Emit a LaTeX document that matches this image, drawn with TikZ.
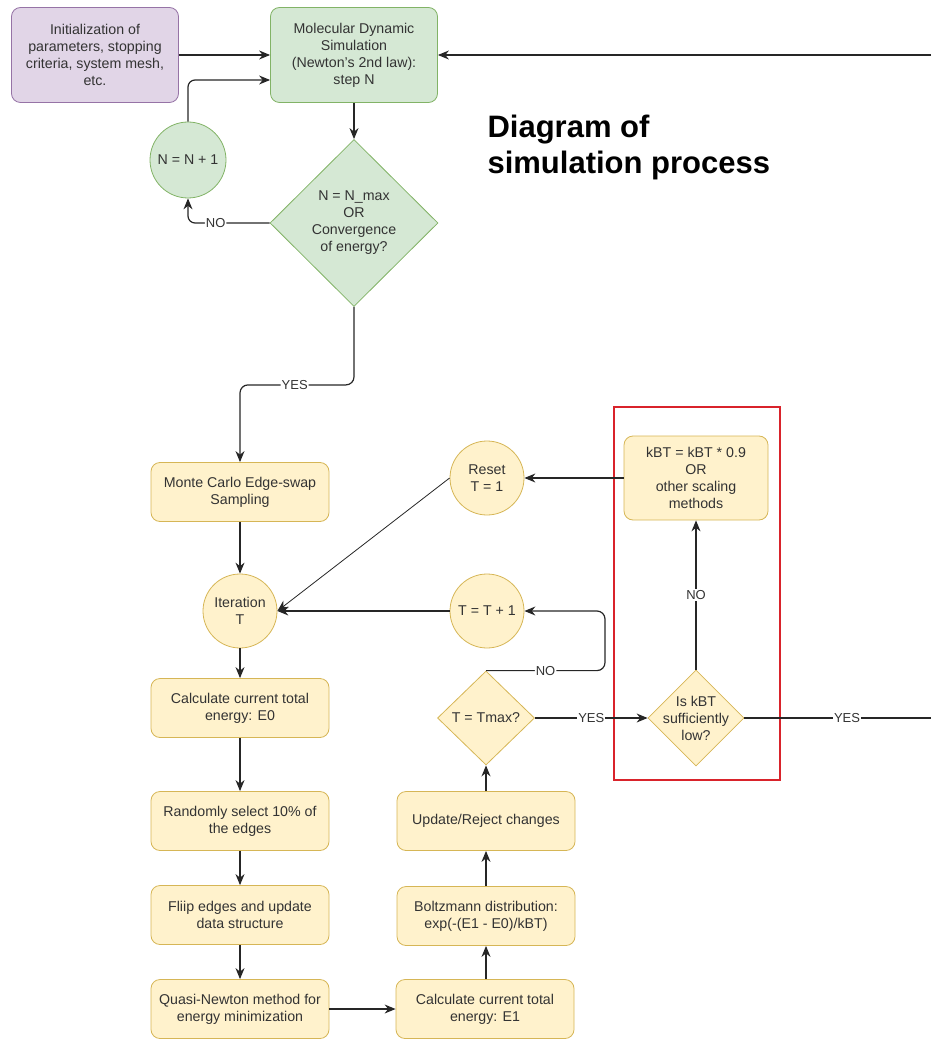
\documentclass[tikz,border=0pt]{standalone}
\usepackage{fontspec}
\setmainfont{Liberation Sans}
\usetikzlibrary{positioning,arrows.meta,shapes.geometric}
\definecolor{cyfill}{HTML}{FFF2CC}
\definecolor{cydraw}{HTML}{D6B656}
\definecolor{cgfill}{HTML}{D5E8D4}
\definecolor{cgdraw}{HTML}{82B366}
\definecolor{cpfill}{HTML}{E1D5E7}
\definecolor{cpdraw}{HTML}{9673A6}
\definecolor{ctext}{HTML}{333333}
\definecolor{cred}{HTML}{D9232B}

\begin{document}
\begin{tikzpicture}[x=1pt, y=-1pt,
    >={Stealth[length=11pt,width=9pt]},
    box/.style={draw=cydraw, fill=cyfill, rounded corners=9pt, line width=0.8pt,
                text=ctext, font=\fontsize{14.2}{17}\selectfont, align=center,
                minimum width=178pt, minimum height=59pt, inner sep=2pt},
    circ/.style={circle, draw=cydraw, fill=cyfill, line width=0.8pt, text=ctext,
                 font=\fontsize{14.2}{17}\selectfont, align=center,
                 minimum size=74pt, inner sep=0pt},
    dec/.style={diamond, draw=cydraw, fill=cyfill, line width=0.8pt, text=ctext,
                font=\fontsize{14.2}{17}\selectfont, align=center, inner sep=0pt},
    arrow/.style={->, line width=1.2pt, color=black!85},
    lbl/.style={fill=white, inner sep=1pt, text=ctext, font=\fontsize{13}{13}\selectfont},
  ]
  \useasboundingbox (0,0) rectangle (931,1040);

  % Molecular dynamics part
  \node[box, draw=cpdraw, fill=cpfill, minimum width=167pt, minimum height=95pt]
    (init) at (95,55) {Initialization of\\parameters, stopping\\criteria, system mesh,\\etc.};
  \node[box, draw=cgdraw, fill=cgfill, minimum width=167pt, minimum height=95pt]
    (md) at (354,55) {Molecular Dynamic\\Simulation\\(Newton's 2nd law):\\step N};
  \node[circ, draw=cgdraw, fill=cgfill, minimum size=76pt] (ninc) at (188,160) {N = N + 1};
  \node[dec, draw=cgdraw, fill=cgfill, minimum width=168pt, minimum height=167pt]
    (conv) at (354,223) {N = N\_max\\OR\\Convergence\\of energy?};

  % Title
  \node[anchor=west, align=left, font=\fontsize{31}{36}\selectfont\bfseries]
    (title) at (484,147) {Diagram of\\simulation process};

  \coordinate (inR) at (931,55);
  \draw[arrow] (init) -- (md);
  \draw[arrow] (inR) -- (md.east);
  \draw[arrow] (md) -- (conv);
  \draw[arrow, rounded corners=7pt] (conv.west) -| node[lbl, pos=0.33] {NO} (ninc.south);
  \draw[arrow, rounded corners=7pt] (ninc.north) |- ([yshift=-25pt]md.west);

  % Monte Carlo part
  \node[box] (mc) at (240,492) {Monte Carlo Edge-swap\\Sampling};
  \node[circ] (iter) at (240,611) {Iteration\\T};
  \node[box] (e0) at (240,708) {Calculate current total\\energy: E0};
  \node[box] (rnd) at (240,821) {Randomly select 10\% of\\the edges};
  \node[box] (flip) at (240,915) {Fliip edges and update\\data structure};
  \node[box] (qn) at (240,1009) {Quasi-Newton method for\\energy minimization};

  \draw[arrow, rounded corners=8pt] (conv.south) -- ++(0,78) -| node[lbl, pos=0.26] {YES} (mc.north);
  \draw[arrow] (mc) -- (iter);
  \draw[arrow] (iter) -- (e0);
  \draw[arrow] (e0) -- (rnd);
  \draw[arrow] (rnd) -- (flip);
  \draw[arrow] (flip) -- (qn);

  \node[box] (e1) at (485,1009) {Calculate current total\\energy: E1};
  \node[box] (boltz) at (486,916) {Boltzmann distribution:\\exp(-(E1 - E0)/kBT)};
  \node[box] (upd) at (486,821) {Update/Reject changes};
  \node[dec, minimum width=97pt, minimum height=94pt] (tmax) at (486,718) {T = Tmax?};
  \node[circ] (tinc) at (487,611) {T = T + 1};
  \node[circ] (reset) at (487,478) {Reset\\T = 1};

  \draw[arrow] (qn) -- (e1);
  \draw[arrow] (e1.north -| boltz) -- (boltz);
  \draw[arrow] (boltz) -- (upd);
  \draw[arrow] (upd) -- (tmax);
  \coordinate (noturn) at (605,611);
  \draw[arrow, rounded corners=8pt] (tmax.north) -| node[lbl, pos=0.25] {NO} (noturn) -- (tinc.east);
  \draw[arrow] (tinc) -- (iter);
  \draw[arrow, line width=0.8pt] (reset.west) -- (iter.east);

  % Cooling part
  \node[box, minimum width=144pt, minimum height=84pt] (scale) at (696,478)
    {kBT = kBT * 0.9\\OR\\other scaling\\methods};
  \node[dec, minimum width=96pt, minimum height=96pt, inner sep=-14pt] (low) at (696,718)
    {Is kBT\\sufficiently\\low?};
  \draw[cred, line width=2.6pt] (614,407) rectangle (780,780);

  \coordinate (outR) at (931,718);
  \draw[arrow] (tmax) -- node[lbl, pos=0.5] {YES} (low);
  \draw[arrow] (low) -- node[lbl] {NO} (scale);
  \draw[arrow] (scale) -- (reset);
  \draw[line width=1.2pt, color=black!85] (low.east) -- node[lbl, pos=0.55] {YES} (outR);
\end{tikzpicture}
\end{document}
